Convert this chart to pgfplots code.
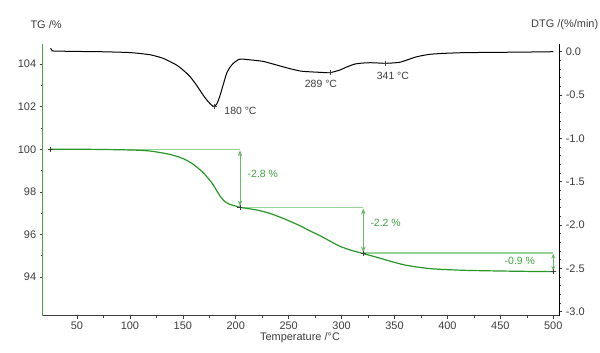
\documentclass[border=0pt]{standalone}
\usepackage{fontspec}
\setmainfont{Liberation Sans}
\usepackage{pgfplots}
\pgfplotsset{compat=1.18}
\usetikzlibrary{arrows.meta}
\definecolor{tggreen}{RGB}{40,150,40}
\definecolor{annogreen}{RGB}{150,212,150}
\definecolor{arrowgreen}{RGB}{105,185,105}
\definecolor{labgreen}{RGB}{60,165,60}
\definecolor{tickgray}{RGB}{60,60,60}
\begin{document}
\begin{tikzpicture}
\path[use as bounding box] (-42.7bp,-37.3bp) rectangle (557.3bp,315.7bp);
\pgfplotsset{common/.style={scale only axis, width=516.6bp, height=271.7bp,
  xmin=17.6, xmax=505.7, at={(0,0)}, anchor=south west,
  tick label style={font=\fontsize{11}{13}\selectfont, text=tickgray},
  /pgf/number format/assume math mode=true,
  major tick length=3bp, minor tick length=2bp, tick align=outside,
  every tick/.style={tickgray, line width=0.6bp}, clip=false}}
\begin{axis}[common, ymin=92.18, ymax=104.95,
  axis x line*=bottom, axis y line*=left,
  x axis line style={-, tickgray, line width=0.8bp},
  y axis line style={-, tggreen!85, line width=1.1bp},
  xtick={50,100,...,500}, minor x tick num=1,
  ytick={94,96,...,104}, minor y tick num=1]
% annotations
\draw[annogreen, line width=0.8bp] (axis cs:25,100.0) -- (axis cs:204,100.0);
\draw[annogreen, line width=0.8bp] (axis cs:204,97.27) -- (axis cs:320.5,97.27);
\draw[annogreen, line width=1.2bp] (axis cs:320.5,95.13) -- (axis cs:500,95.13);
\draw[arrowgreen, line width=0.7bp, {Stealth[length=6bp,width=4.5bp]}-{Stealth[length=6bp,width=4.5bp]}] (axis cs:204,99.95) -- (axis cs:204,97.32);
\draw[arrowgreen, line width=0.7bp, {Stealth[length=6bp,width=4.5bp]}-{Stealth[length=6bp,width=4.5bp]}] (axis cs:320.5,97.22) -- (axis cs:320.5,95.15);
\draw[arrowgreen, line width=0.7bp, {Stealth[length=5bp,width=4bp]}-{Stealth[length=5bp,width=4bp]}] (axis cs:500,95.10) -- (axis cs:500,94.29);
\node[labgreen, anchor=west, font=\fontsize{10.5}{12}\selectfont] at (axis cs:208,98.83) {-2.8 \%};
\node[labgreen, anchor=west, font=\fontsize{10.5}{12}\selectfont] at (axis cs:324,96.52) {-2.2 \%};
\node[labgreen, anchor=east, font=\fontsize{10.5}{12}\selectfont] at (axis cs:486,94.74) {-0.9 \%};
% TG curve
\addplot[tggreen, line width=1.2bp, smooth, tension=0.4] coordinates {
(25,100.0) (60,100.0) (100,99.97) (119,99.92) (138,99.76) (150.4,99.56) (160,99.29)
(169.3,98.90) (177.3,98.43) (182,98.06) (185.5,97.78) (189.5,97.55) (194.5,97.41) (200,97.33)
(205.6,97.26) (219.8,97.15) (232.3,96.99) (245,96.75) (253,96.58) (261,96.40)
(270,96.17) (280,95.93) (290,95.66) (299,95.43) (310,95.24) (320.5,95.10)
(335,94.90) (349,94.70) (360,94.56) (371,94.47) (382,94.40) (393,94.36)
(418,94.31) (450,94.28) (480,94.26) (500,94.25)};
% markers
\addplot[only marks, mark=+, mark size=2.5bp, tickgray, line width=0.5bp] coordinates {
(25,100.0) (204,97.27) (320.5,95.10) (500,94.25)};
\end{axis}
\begin{axis}[common, ymin=-3.046, ymax=0.089,
  hide x axis, axis y line*=right,
  y axis line style={-, black, line width=0.9bp},
  ytick={-3,-2.5,...,0}, minor y tick num=4,
  yticklabel style={/pgf/number format/.cd, fixed, fixed zerofill, precision=1}]
\addplot[black, line width=1bp, smooth, tension=0.35] coordinates {
(25,0.04) (26.5,0.015) (28,0.008) (50,0.003) (72,0.0) (100,-0.01) (119,-0.035)
(131.5,-0.077) (144,-0.153) (151,-0.22) (157,-0.29) (162,-0.37) (166,-0.442)
(170,-0.515) (174,-0.577) (177,-0.614) (179.5,-0.632) (182,-0.605) (184.5,-0.53)
(186.7,-0.442) (189,-0.345) (191.4,-0.249) (194.5,-0.18) (197.7,-0.134) (202.4,-0.092)
(206,-0.085) (212,-0.092) (226,-0.112) (242,-0.165) (251,-0.195)
(261,-0.223) (270,-0.232) (280,-0.238) (289,-0.242) (298.5,-0.211) (305,-0.175) (312.6,-0.142)
(319,-0.132) (327,-0.127) (334,-0.130) (341,-0.134) (348,-0.130) (355,-0.122) (362,-0.095)
(369,-0.065) (376,-0.045) (383.5,-0.03) (395,-0.02) (412,-0.012) (430,-0.009) (450,-0.007)
(475,-0.004) (500,0.0)};
\addplot[only marks, mark=+, mark size=2.5bp, tickgray, line width=0.5bp] coordinates {
(180,-0.632) (289,-0.242) (341,-0.134)};
\node[anchor=west, text=tickgray, font=\fontsize{10.5}{12}\selectfont] at (axis cs:186,-0.684) {180 °C};
\node[text=tickgray, font=\fontsize{10.5}{12}\selectfont] at (axis cs:280.5,-0.373) {289 °C};
\node[text=tickgray, font=\fontsize{10.5}{12}\selectfont] at (axis cs:348.5,-0.28) {341 °C};
\end{axis}
\node[anchor=west, text=tickgray, font=\fontsize{11}{13}\selectfont] at (-15.7bp,291bp) {TG /\%};
\node[anchor=west, text=tickgray, font=\fontsize{11}{13}\selectfont] at (485bp,291bp) {DTG /(\%/min)};
\node[text=tickgray, font=\fontsize{11}{13}\selectfont] at (257.3bp,-22bp) {Temperature /°C};
\end{tikzpicture}
\end{document}
